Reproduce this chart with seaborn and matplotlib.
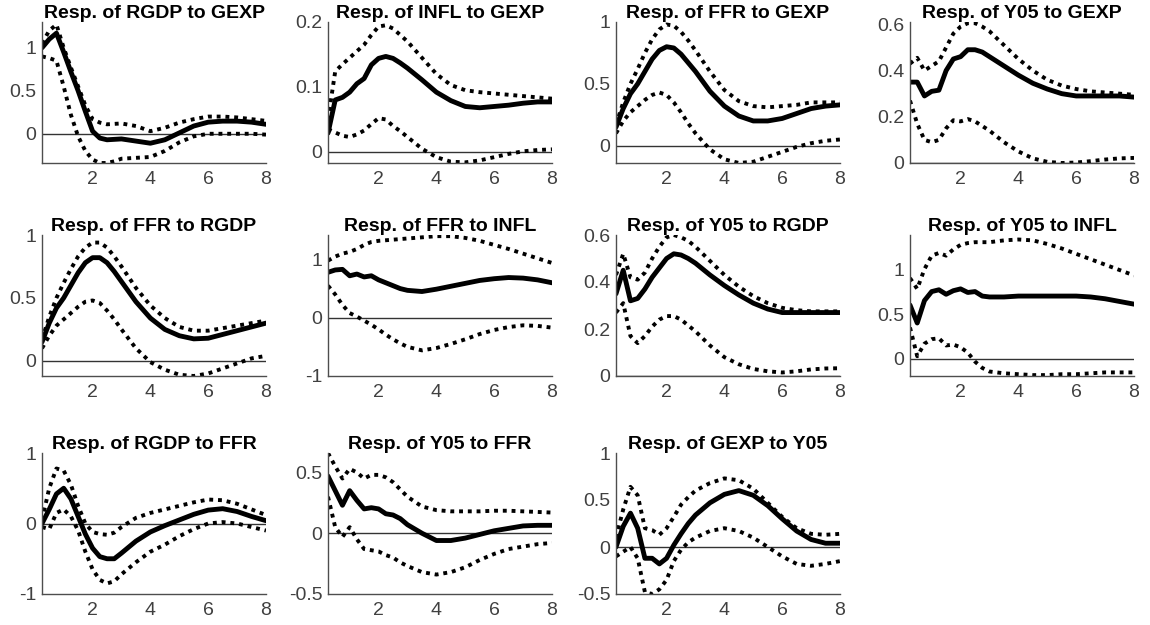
import matplotlib
matplotlib.use("Agg")
import matplotlib.pyplot as plt
import numpy as np
import pandas as pd
import seaborn as sns

# ---------------- data ----------------
horizon = [0.25, 0.5, 0.75, 1, 1.25, 1.5, 1.75, 2, 2.25, 2.5, 2.75, 3,
           3.5, 4, 4.5, 5, 5.5, 6, 6.5, 7, 7.5, 8]

titles = ["Resp. of RGDP to GEXP", "Resp. of INFL to GEXP", "Resp. of FFR to GEXP",
          "Resp. of Y05 to GEXP", "Resp. of FFR to RGDP", "Resp. of FFR to INFL",
          "Resp. of Y05 to RGDP", "Resp. of Y05 to INFL", "Resp. of RGDP to FFR",
          "Resp. of Y05 to FFR", "Resp. of GEXP to Y05"]

rgdp_gexp_mid = [1.0, 1.1, 1.17, 0.95, 0.72, 0.5, 0.26, 0.03, -0.05, -0.07, -0.065, -0.06, -0.085, -0.11, -0.07, 0.01, 0.09, 0.135, 0.147, 0.147, 0.135, 0.11]
rgdp_gexp_hi = [1.05, 1.2, 1.27, 1.0, 0.77, 0.55, 0.33, 0.17, 0.13, 0.11, 0.115, 0.12, 0.09, 0.03, 0.07, 0.13, 0.17, 0.2, 0.2, 0.19, 0.17, 0.15]
rgdp_gexp_lo = [0.9, 0.88, 0.85, 0.55, 0.22, -0.03, -0.2, -0.3, -0.34, -0.34, -0.32, -0.29, -0.28, -0.27, -0.2, -0.1, -0.03, 0.0, 0.0, 0.0, 0.0, -0.01]

infl_gexp_mid = [0.029, 0.08, 0.084, 0.092, 0.105, 0.113, 0.134, 0.144, 0.147, 0.144, 0.137, 0.129, 0.111, 0.092, 0.079, 0.07, 0.068, 0.07, 0.072, 0.075, 0.077, 0.077]
infl_gexp_hi = [0.05, 0.124, 0.135, 0.145, 0.155, 0.165, 0.18, 0.193, 0.195, 0.19, 0.18, 0.17, 0.145, 0.12, 0.103, 0.095, 0.092, 0.09, 0.088, 0.086, 0.084, 0.082]
infl_gexp_lo = [0.035, 0.03, 0.025, 0.023, 0.027, 0.033, 0.043, 0.052, 0.05, 0.04, 0.032, 0.023, 0.005, -0.008, -0.015, -0.016, -0.013, -0.008, -0.003, 0.001, 0.003, 0.004]

ffr_gexp_mid = [0.15, 0.3, 0.42, 0.5, 0.6, 0.7, 0.77, 0.8, 0.79, 0.74, 0.67, 0.6, 0.44, 0.32, 0.24, 0.2, 0.2, 0.22, 0.26, 0.3, 0.32, 0.33]
ffr_gexp_hi = [0.17, 0.35, 0.5, 0.62, 0.75, 0.86, 0.94, 0.98, 0.97, 0.92, 0.85, 0.77, 0.6, 0.45, 0.36, 0.32, 0.31, 0.32, 0.33, 0.35, 0.35, 0.35]
ffr_gexp_lo = [0.1, 0.2, 0.27, 0.32, 0.37, 0.41, 0.43, 0.41, 0.35, 0.27, 0.18, 0.1, -0.03, -0.11, -0.14, -0.13, -0.09, -0.05, -0.01, 0.02, 0.04, 0.05]

y05_gexp_mid = [0.35, 0.35, 0.29, 0.31, 0.315, 0.4, 0.45, 0.46, 0.49, 0.49, 0.48, 0.46, 0.42, 0.38, 0.345, 0.32, 0.3, 0.29, 0.29, 0.29, 0.29, 0.285]
y05_gexp_hi = [0.43, 0.455, 0.4, 0.42, 0.44, 0.5, 0.56, 0.59, 0.605, 0.605, 0.59, 0.57, 0.51, 0.45, 0.4, 0.36, 0.335, 0.32, 0.31, 0.305, 0.3, 0.295]
y05_gexp_lo = [0.27, 0.17, 0.1, 0.09, 0.1, 0.15, 0.185, 0.18, 0.19, 0.18, 0.16, 0.14, 0.09, 0.05, 0.02, 0.005, 0.0, 0.002, 0.008, 0.015, 0.02, 0.022]

ffr_rgdp_mid = [0.15, 0.3, 0.42, 0.5, 0.6, 0.7, 0.78, 0.82, 0.82, 0.78, 0.71, 0.63, 0.47, 0.34, 0.25, 0.2, 0.175, 0.18, 0.21, 0.24, 0.27, 0.3]
ffr_rgdp_hi = [0.17, 0.35, 0.5, 0.62, 0.73, 0.83, 0.9, 0.94, 0.94, 0.9, 0.83, 0.75, 0.58, 0.44, 0.34, 0.27, 0.24, 0.24, 0.26, 0.28, 0.3, 0.32]
ffr_rgdp_lo = [0.1, 0.2, 0.28, 0.33, 0.38, 0.43, 0.47, 0.48, 0.46, 0.4, 0.33, 0.25, 0.1, -0.01, -0.07, -0.11, -0.12, -0.1, -0.06, -0.02, 0.02, 0.04]

ffr_infl_mid = [0.78, 0.82, 0.83, 0.72, 0.75, 0.7, 0.72, 0.65, 0.6, 0.55, 0.5, 0.47, 0.45, 0.49, 0.54, 0.59, 0.64, 0.67, 0.69, 0.68, 0.65, 0.6]
ffr_infl_hi = [0.98, 1.05, 1.1, 1.13, 1.18, 1.25, 1.3, 1.32, 1.33, 1.34, 1.35, 1.36, 1.38, 1.4, 1.4, 1.37, 1.32, 1.25, 1.18, 1.1, 1.02, 0.94]
ffr_infl_lo = [0.55, 0.4, 0.22, 0.08, 0.02, -0.05, -0.12, -0.2, -0.29, -0.37, -0.44, -0.5, -0.56, -0.52, -0.45, -0.37, -0.28, -0.21, -0.16, -0.13, -0.14, -0.17]

y05_rgdp_mid = [0.35, 0.45, 0.32, 0.33, 0.37, 0.42, 0.46, 0.5, 0.52, 0.515, 0.5, 0.48, 0.43, 0.385, 0.345, 0.31, 0.285, 0.27, 0.27, 0.27, 0.27, 0.27]
y05_rgdp_hi = [0.43, 0.52, 0.42, 0.41, 0.44, 0.5, 0.55, 0.59, 0.6, 0.59, 0.575, 0.55, 0.49, 0.43, 0.38, 0.34, 0.31, 0.29, 0.28, 0.275, 0.275, 0.275]
y05_rgdp_lo = [0.27, 0.31, 0.17, 0.14, 0.17, 0.21, 0.24, 0.255, 0.255, 0.24, 0.215, 0.19, 0.13, 0.08, 0.05, 0.03, 0.02, 0.015, 0.02, 0.028, 0.032, 0.033]

y05_infl_mid = [0.6, 0.4, 0.65, 0.75, 0.77, 0.72, 0.76, 0.78, 0.74, 0.75, 0.7, 0.69, 0.69, 0.7, 0.7, 0.7, 0.7, 0.7, 0.69, 0.67, 0.64, 0.61]
y05_infl_hi = [0.9, 0.78, 1.0, 1.15, 1.18, 1.15, 1.22, 1.27, 1.29, 1.3, 1.3, 1.3, 1.32, 1.33, 1.32, 1.28, 1.23, 1.17, 1.11, 1.05, 0.99, 0.93]
y05_infl_lo = [0.35, 0.03, 0.17, 0.22, 0.23, 0.15, 0.16, 0.13, 0.07, -0.03, -0.1, -0.14, -0.16, -0.17, -0.18, -0.18, -0.17, -0.17, -0.16, -0.15, -0.15, -0.15]

rgdp_ffr_mid = [0.0, 0.2, 0.42, 0.5, 0.35, 0.1, -0.15, -0.35, -0.47, -0.5, -0.5, -0.42, -0.25, -0.12, -0.03, 0.05, 0.13, 0.19, 0.21, 0.17, 0.1, 0.04]
rgdp_ffr_hi = [0.05, 0.5, 0.78, 0.75, 0.55, 0.25, 0.0, -0.12, -0.15, -0.16, -0.13, -0.05, 0.08, 0.15, 0.2, 0.25, 0.3, 0.34, 0.33, 0.28, 0.2, 0.12]
rgdp_ffr_lo = [-0.05, -0.08, 0.15, 0.2, 0.1, -0.1, -0.4, -0.65, -0.8, -0.85, -0.82, -0.72, -0.55, -0.4, -0.3, -0.18, -0.08, 0.0, 0.02, 0.0, -0.05, -0.1]

y05_ffr_mid = [0.47, 0.35, 0.23, 0.35, 0.27, 0.2, 0.21, 0.2, 0.16, 0.15, 0.12, 0.07, 0.0, -0.06, -0.06, -0.04, -0.01, 0.02, 0.04, 0.06, 0.065, 0.065]
y05_ffr_hi = [0.66, 0.55, 0.45, 0.53, 0.5, 0.45, 0.48, 0.48, 0.46, 0.42, 0.36, 0.3, 0.22, 0.19, 0.18, 0.18, 0.18, 0.185, 0.185, 0.18, 0.175, 0.17]
y05_ffr_lo = [0.3, 0.05, -0.03, 0.05, -0.05, -0.13, -0.14, -0.15, -0.18, -0.2, -0.24, -0.27, -0.32, -0.34, -0.32, -0.28, -0.22, -0.17, -0.13, -0.11, -0.09, -0.08]

gexp_y05_mid = [0.0, 0.22, 0.36, 0.2, -0.12, -0.12, -0.18, -0.12, 0.02, 0.14, 0.25, 0.34, 0.47, 0.56, 0.6, 0.55, 0.44, 0.3, 0.17, 0.08, 0.04, 0.04]
gexp_y05_hi = [0.1, 0.4, 0.64, 0.55, 0.2, 0.18, 0.13, 0.2, 0.32, 0.45, 0.53, 0.6, 0.68, 0.73, 0.71, 0.62, 0.47, 0.32, 0.2, 0.14, 0.13, 0.14]
gexp_y05_lo = [-0.1, -0.05, 0.0, -0.12, -0.48, -0.5, -0.45, -0.35, -0.15, -0.03, 0.05, 0.1, 0.17, 0.2, 0.17, 0.1, 0.0, -0.1, -0.18, -0.2, -0.18, -0.15]

y_limits = [(-0.34, 1.3), (-0.017, 0.2), (-0.14, 1.0), (0, 0.61), (-0.12, 1.0), (-1, 1.42),
            (0, 0.6), (-0.19, 1.38), (-1, 1), (-0.5, 0.66), (-0.5, 1)]
y_ticks = [[0, 0.5, 1], [0, 0.1, 0.2], [0, 0.5, 1], [0, 0.2, 0.4, 0.6], [0, 0.5, 1], [-1, 0, 1],
           [0, 0.2, 0.4, 0.6], [0, 0.5, 1], [-1, 0, 1], [-0.5, 0, 0.5], [-0.5, 0, 0.5, 1]]
x_ticks = [2, 4, 6, 8]

series = [
    (rgdp_gexp_mid, rgdp_gexp_lo, rgdp_gexp_hi),
    (infl_gexp_mid, infl_gexp_lo, infl_gexp_hi),
    (ffr_gexp_mid, ffr_gexp_lo, ffr_gexp_hi),
    (y05_gexp_mid, y05_gexp_lo, y05_gexp_hi),
    (ffr_rgdp_mid, ffr_rgdp_lo, ffr_rgdp_hi),
    (ffr_infl_mid, ffr_infl_lo, ffr_infl_hi),
    (y05_rgdp_mid, y05_rgdp_lo, y05_rgdp_hi),
    (y05_infl_mid, y05_infl_lo, y05_infl_hi),
    (rgdp_ffr_mid, rgdp_ffr_lo, rgdp_ffr_hi),
    (y05_ffr_mid, y05_ffr_lo, y05_ffr_hi),
    (gexp_y05_mid, gexp_y05_lo, gexp_y05_hi),
]

# ---------------- style ----------------
sns.set_style("white")
plt.rcParams["font.family"] = ["Liberation Sans", "DejaVu Sans"]
plt.rcParams["axes.unicode_minus"] = False

W, H = 1150, 625
fig = plt.figure(figsize=(W / 100, H / 100), dpi=100)

col_left = [42, 328, 616, 910]
ax_w = 224
row_top = [22, 235, 453]
ax_h = 141

axis_col = "#4d4d4d"
for i, (title, (mid, lo, hi)) in enumerate(zip(titles, series)):
    r, c = divmod(i, 4)
    ax = fig.add_axes([col_left[c] / W, 1 - (row_top[r] + ax_h) / H, ax_w / W, ax_h / H])
    n = len(horizon)
    df = pd.DataFrame({
        "h": horizon * 3,
        "resp": list(mid) + list(lo) + list(hi),
        "band": ["mid"] * n + ["lo"] * n + ["hi"] * n,
    })
    ax.axhline(0, color="#333333", lw=1.0, zorder=1)
    sns.lineplot(data=df, x="h", y="resp", hue="band", style="band", size="band",
                 palette={"mid": "black", "lo": "black", "hi": "black"},
                 dashes={"mid": "", "lo": (1, 1.25), "hi": (1, 1.25)},
                 sizes={"mid": 3.5, "lo": 2.8, "hi": 2.8},
                 hue_order=["lo", "hi", "mid"],
                 estimator=None, sort=False, legend=False, ax=ax)
    ax.set_xlim(0.25, 8)
    ax.set_ylim(*y_limits[i])
    ax.set_xticks(x_ticks, labels=[f"{v:g}" for v in x_ticks])
    ax.set_yticks(y_ticks[i], labels=[f"{v:g}" for v in y_ticks[i]])
    ax.set_xlabel("")
    ax.set_ylabel("")
    for s in ["top", "right"]:
        ax.spines[s].set_visible(False)
    for s in ["left", "bottom"]:
        ax.spines[s].set_color(axis_col)
        ax.spines[s].set_linewidth(1.0)
    ax.tick_params(direction="in", length=3, width=0.8, colors=axis_col,
                   labelsize=14, labelcolor="#404040")
    ax.tick_params(axis="x", pad=6)
    ax.tick_params(axis="y", pad=4)
    ax.set_title(title, fontweight="bold", fontsize=14, pad=3, color="black")

fig.savefig("out.png", dpi=100)
